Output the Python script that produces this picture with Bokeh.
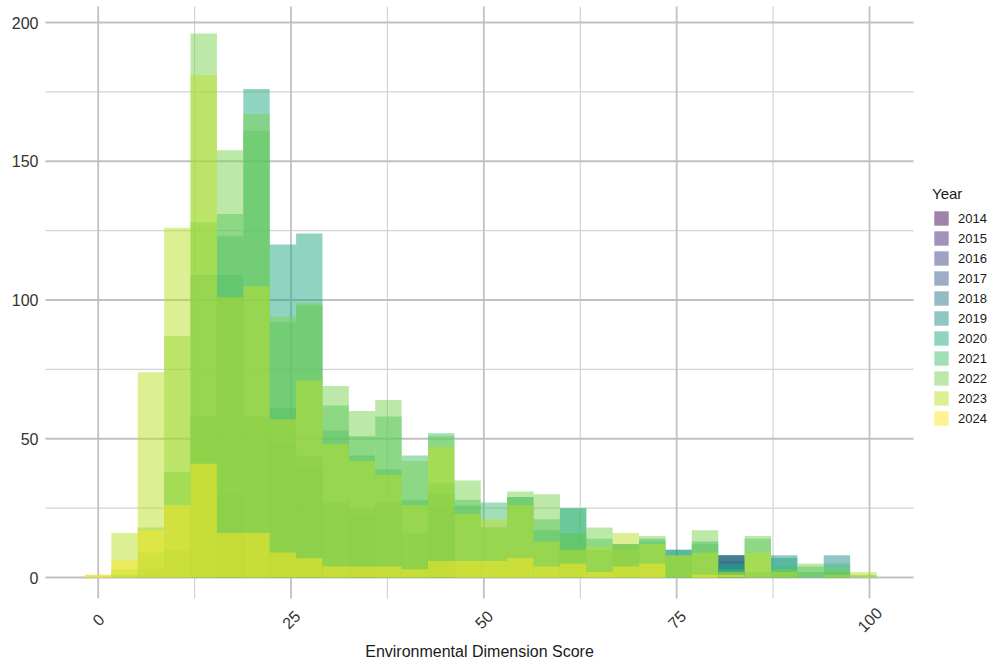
import math

from bokeh.embed import file_html
from bokeh.models import Label, Legend, LegendItem, Range1d
from bokeh.plotting import figure
from bokeh.resources import INLINE

# Histogram of Environmental Dimension Scores, one overlaid layer per year.
# 30 equal-width bins whose centres run from the lowest to the highest score.
score_min = 0.0
score_max = 99.2
n_bins = 30

years = ["2014", "2015", "2016", "2017", "2018", "2019",
         "2020", "2021", "2022", "2023", "2024"]

# counts per bin, lowest score bin first
count_2014 = [0, 0, 0, 0, 0, 0, 0, 0, 0, 0, 0, 0, 0, 0, 0,
              0, 0, 0, 0, 0, 0, 0, 0, 0, 8, 0, 0, 0, 0, 0]
count_2015 = [0, 0, 0, 0, 0, 0, 0, 0, 0, 0, 0, 0, 0, 0, 0,
              0, 0, 0, 0, 0, 0, 0, 0, 0, 6, 0, 0, 0, 0, 0]
count_2016 = [0, 0, 0, 0, 0, 0, 0, 0, 0, 0, 0, 0, 0, 0, 0,
              0, 0, 0, 0, 0, 0, 0, 0, 0, 2, 0, 0, 0, 0, 0]
count_2017 = [0, 0, 0, 0, 0, 0, 0, 0, 0, 0, 0, 0, 0, 0, 0,
              0, 0, 0, 0, 0, 0, 0, 0, 0, 8, 0, 0, 0, 0, 0]
count_2018 = [0, 0, 0, 0, 0, 30, 0, 48, 40, 0, 22, 0, 0, 25, 0,
              0, 0, 0, 0, 0, 0, 0, 0, 0, 3, 0, 0, 0, 0, 0]
count_2019 = [0, 0, 0, 0, 58, 109, 58, 61, 44, 27, 25, 27, 16, 30, 0,
              0, 0, 0, 16, 0, 12, 0, 10, 0, 8, 0, 8, 0, 8, 0]
count_2020 = [0, 0, 3, 10, 109, 123, 176, 120, 124, 53, 44, 39, 28, 34, 26,
              18, 29, 17, 25, 10, 12, 14, 10, 13, 5, 2, 7, 2, 2, 0]
count_2021 = [0, 1, 9, 38, 128, 131, 161, 92, 98, 62, 51, 58, 44, 52, 28,
              27, 29, 21, 25, 14, 12, 13, 8, 12, 3, 14, 4, 4, 5, 1]
count_2022 = [0, 3, 18, 87, 196, 154, 167, 94, 99, 69, 60, 64, 42, 51, 35,
              18, 31, 30, 16, 18, 10, 15, 8, 17, 0, 15, 3, 5, 3, 0]
count_2023 = [1, 16, 74, 126, 181, 101, 105, 57, 71, 48, 42, 37, 26, 47, 23,
              21, 26, 13, 10, 11, 16, 12, 8, 9, 2, 9, 2, 0, 1, 2]
count_2024 = [1, 6, 17, 26, 41, 16, 16, 9, 7, 4, 4, 4, 3, 6, 6,
              6, 7, 4, 5, 2, 4, 5, 0, 1, 1, 0, 0, 0, 0, 0]

counts_by_year = [count_2014, count_2015, count_2016, count_2017, count_2018,
                  count_2019, count_2020, count_2021, count_2022, count_2023,
                  count_2024]

x_ticks = [0, 25, 50, 75, 100]
x_minor = [12.5, 37.5, 62.5, 87.5]
y_ticks = [0, 50, 100, 150, 200]
y_minor = [25, 75, 125, 175]
x_title = "Environmental Dimension Score"

# viridis, 11 steps
palette = ["#440154", "#482576", "#414487", "#35608D", "#2A788E", "#21908C",
           "#22A884", "#43BF71", "#7AD151", "#BBDF27", "#FDE725"]

bin_width = (score_max - score_min) / (n_bins - 1)
lefts = [score_min + (i - 0.5) * bin_width for i in range(n_bins)]
rights = [score_min + (i + 0.5) * bin_width for i in range(n_bins)]

FONT = "Liberation Sans"
W, H = 994, 664

# pixel geometry of the panel and its data scale
PX_X0, PX_PER_X = 97.7, 7.713     # screen x of score 0, pixels per score unit
PX_Y0, PX_PER_Y = 577.0, 2.775    # screen y of count 0, pixels per count
PANEL_LEFT, PANEL_RIGHT = 45, 913
PANEL_TOP, PANEL_BOTTOM = 6, 598


def dx(px):
    return (px - PX_X0) / PX_PER_X


def dy(py):
    return (PX_Y0 - py) / PX_PER_Y


p = figure(
    width=W, height=H,
    x_range=Range1d(dx(0), dx(W)),
    y_range=Range1d(dy(H), dy(0)),
    output_backend="svg",
    toolbar_location=None,
    x_axis_location=None, y_axis_location=None,
    min_border=0,
)
p.grid.visible = False
p.outline_line_color = None
p.background_fill_color = "white"
p.border_fill_color = "white"

# panel grid, limited to the panel area
gx0, gx1 = dx(PANEL_LEFT), dx(PANEL_RIGHT)
gy0, gy1 = dy(PANEL_BOTTOM), dy(PANEL_TOP)
p.segment(x0=x_minor, x1=x_minor, y0=gy0, y1=gy1,
          line_color="#D3D3D3", line_width=1.2)
p.segment(x0=gx0, x1=gx1, y0=y_minor, y1=y_minor,
          line_color="#D3D3D3", line_width=1.2)
p.segment(x0=x_ticks, x1=x_ticks, y0=gy0, y1=gy1,
          line_color="#C0C0C0", line_width=1.8)
p.segment(x0=gx0, x1=gx1, y0=y_ticks, y1=y_ticks,
          line_color="#C0C0C0", line_width=1.8)

items = []
for year, counts, color in zip(years, counts_by_year, palette):
    r = p.quad(left=lefts, right=rights, bottom=0, top=counts,
               fill_color=color, fill_alpha=0.5, line_color=None)
    items.append(LegendItem(label=year, renderers=[r]))

# y tick labels
for t in y_ticks:
    p.add_layout(Label(x=dx(38), y=t, text=str(t), text_align="right",
                       text_baseline="middle", text_font=FONT,
                       text_font_size="16px", text_color="#333333"))

# x tick labels, slanted and centred under each tick
for t in x_ticks:
    p.add_layout(Label(x=t, y=dy(619), text=str(t),
                       angle=math.pi / 4, text_align="center",
                       text_baseline="middle", text_font=FONT,
                       text_font_size="16px", text_color="#333333"))

# x axis title
p.add_layout(Label(x=dx((PANEL_LEFT + PANEL_RIGHT) / 2), y=dy(651),
                   text=x_title, text_align="center", text_baseline="middle",
                   text_font=FONT, text_font_size="16px",
                   text_color="#1a1a1a"))

legend = Legend(items=items, title="Year", location=(932, H - 427))
legend.title_text_font = FONT
legend.title_text_font_size = "15px"
legend.title_text_font_style = "normal"
legend.title_text_color = "#1a1a1a"
legend.title_standoff = 7
legend.label_text_font = FONT
legend.label_text_font_size = "13px"
legend.label_text_color = "#1a1a1a"
legend.glyph_width = 18
legend.glyph_height = 18
legend.label_height = 18
legend.label_standoff = 8
legend.spacing = 2
legend.padding = 0
legend.margin = 0
legend.border_line_color = None
legend.background_fill_alpha = 0
p.add_layout(legend, "center")

open("out.html", "w").write(file_html(p, INLINE))
